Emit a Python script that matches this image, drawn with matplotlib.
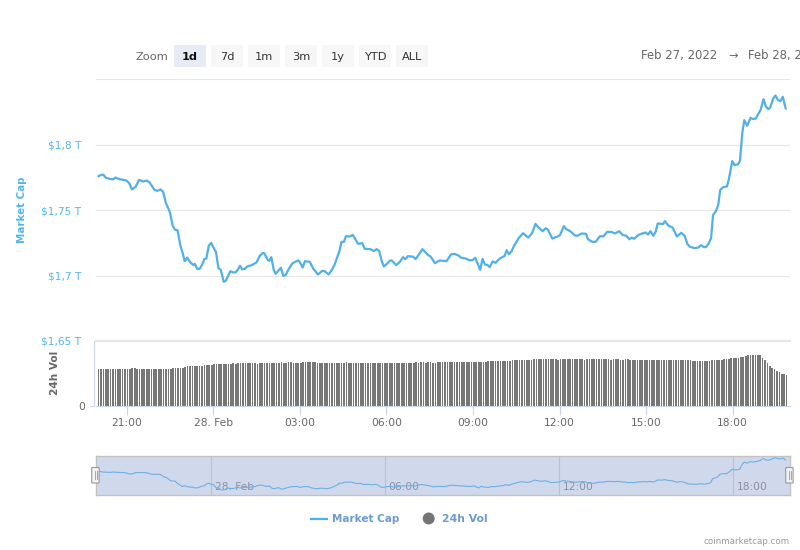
import numpy as np
import matplotlib
matplotlib.use("Agg")
import matplotlib.pyplot as plt
from matplotlib.patches import FancyBboxPatch, Circle
from matplotlib.lines import Line2D
from matplotlib.transforms import ScaledTranslation

# minutes after 27 Feb 21:00
cap_minutes = [-58, -52, -48, -43, -35, -28, -23, -15, -7, 0, 6, 11, 19, 26, 35, 42, 48, 58, 64, 71,
               76, 82, 90, 96, 101, 106, 112, 116, 121, 126, 133, 139, 142, 147, 152, 157, 162, 166, 171, 176,
               181, 186, 191, 196, 202, 206, 216, 222, 227, 231, 236, 240, 245, 251, 260, 270, 277, 283, 286, 294,
               297, 301, 306, 310, 321, 326, 331, 337, 345, 357, 360, 366, 371, 381, 388, 398, 407, 412, 420, 427,
               433, 442, 447, 452, 456, 464, 470, 475, 481, 490, 495, 507, 514, 520, 525, 531, 535, 540, 547, 551,
               561, 568, 575, 580, 585, 596, 601, 615, 627, 632, 641, 651, 665, 675, 682, 691, 696, 705, 712, 719,
               725, 735, 740, 745, 750, 755, 761, 767, 776, 786, 790, 795, 800, 806, 809, 815, 824, 835, 843, 850,
               855, 865, 871, 876, 885, 894, 901, 909, 914, 923, 932, 937, 946, 955, 959, 968, 975, 984, 991, 999,
               1008, 1015, 1024, 1031, 1039, 1045, 1050, 1055, 1064, 1074, 1079, 1084, 1089, 1095, 1100, 1104, 1112, 1115, 1119, 1126,
               1135, 1144, 1153, 1160, 1166, 1171, 1181, 1189, 1194, 1200, 1205, 1210, 1215, 1219, 1225, 1230, 1234, 1240, 1248, 1252,
               1259, 1264, 1271, 1275, 1280, 1284, 1290, 1297, 1302, 1308, 1318, 1324, 1329, 1334, 1338, 1344, 1349, 1354, 1359, 1364,
               1370]

# market cap, billions of dollars
cap_values = [1775.8, 1776.9, 1776.9, 1774.6, 1773.8, 1773.3, 1774.8, 1773.6, 1773.0, 1772.5, 1770.2, 1765.7, 1767.7, 1773.0, 1771.8, 1772.5, 1771.0, 1765.4, 1764.6, 1765.7,
              1763.9, 1755.2, 1748.6, 1737.9, 1734.9, 1734.6, 1722.7, 1718.1, 1710.9, 1713.7, 1709.9, 1707.9, 1708.9, 1705.1, 1705.1, 1708.1, 1712.7, 1713.0, 1722.7, 1724.9,
              1721.1, 1718.1, 1705.6, 1704.3, 1695.2, 1695.9, 1703.3, 1702.3, 1702.5, 1704.3, 1707.4, 1704.8, 1704.8, 1706.9, 1707.9, 1709.9, 1715.0, 1717.1, 1717.1, 1711.7,
              1711.2, 1714.0, 1704.3, 1701.3, 1705.9, 1699.7, 1700.5, 1704.8, 1709.4, 1711.5, 1710.4, 1706.1, 1710.9, 1710.4, 1705.3, 1700.8, 1703.6, 1703.3, 1700.8, 1704.3,
              1708.7, 1718.1, 1725.7, 1725.7, 1730.0, 1729.8, 1731.0, 1728.2, 1724.2, 1724.7, 1720.4, 1720.1, 1718.6, 1720.1, 1718.8, 1710.4, 1706.9, 1708.4, 1711.2, 1711.5,
              1707.9, 1710.4, 1714.0, 1712.5, 1714.8, 1714.3, 1712.5, 1720.1, 1715.5, 1714.5, 1709.4, 1711.5, 1710.9, 1716.3, 1716.5, 1715.0, 1713.5, 1713.0, 1711.7, 1711.7,
              1713.5, 1704.3, 1712.7, 1708.4, 1708.1, 1706.4, 1710.7, 1709.7, 1713.0, 1715.0, 1719.3, 1716.3, 1718.3, 1723.2, 1724.7, 1728.5, 1732.3, 1729.0, 1732.3, 1739.4,
              1737.2, 1733.8, 1736.1, 1734.9, 1728.2, 1729.5, 1730.8, 1737.7, 1735.4, 1733.6, 1730.5, 1730.3, 1732.1, 1731.8, 1727.7, 1725.7, 1725.7, 1730.0, 1729.8, 1733.3,
              1733.3, 1732.1, 1733.8, 1731.0, 1730.3, 1727.7, 1729.0, 1728.0, 1731.0, 1732.3, 1732.8, 1731.3, 1733.8, 1730.3, 1733.6, 1739.7, 1739.4, 1739.2, 1741.5, 1738.2,
              1736.6, 1729.8, 1732.6, 1730.3, 1723.9, 1721.9, 1720.9, 1721.4, 1723.2, 1721.6, 1721.9, 1724.4, 1728.5, 1746.1, 1749.1, 1754.2, 1765.4, 1767.4, 1768.0, 1773.6,
              1787.3, 1784.2, 1785.0, 1787.5, 1809.2, 1818.6, 1814.3, 1820.4, 1819.4, 1819.9, 1826.5, 1834.6, 1828.8, 1827.0, 1828.3, 1835.1, 1837.4, 1833.9, 1833.1, 1836.4,
              1827.5]

# 24h volume, one bar every 5 minutes from the first cap point
vol_values = [112, 113, 112, 112, 112, 112, 112, 112, 112, 112, 112, 112, 112, 112, 114, 115, 112, 112, 112, 112,
              112, 112, 112, 112, 112, 112, 112, 112, 112, 112, 112, 115, 115, 115, 115, 115, 118, 121, 121, 121,
              121, 121, 121, 122, 124, 124, 124, 125, 128, 126, 127, 127, 127, 127, 127, 128, 130, 128, 129, 130,
              130, 130, 130, 130, 130, 130, 128, 130, 130, 130, 130, 130, 130, 130, 130, 130, 132, 130, 131, 132,
              132, 131, 130, 130, 130, 133, 133, 133, 133, 133, 132, 130, 130, 130, 130, 130, 130, 130, 130, 130,
              130, 130, 130, 132, 130, 131, 130, 131, 130, 130, 130, 130, 130, 130, 130, 130, 130, 130, 130, 130,
              130, 130, 130, 130, 130, 130, 131, 130, 131, 131, 130, 131, 132, 131, 132, 132, 131, 132, 132, 130,
              131, 133, 133, 132, 133, 133, 133, 133, 133, 133, 133, 133, 133, 133, 133, 133, 133, 133, 133, 133,
              133, 133, 136, 136, 136, 136, 136, 136, 136, 136, 136, 136, 138, 138, 138, 138, 138, 138, 138, 138,
              138, 142, 142, 142, 142, 142, 142, 142, 141, 142, 142, 140, 142, 142, 142, 142, 142, 142, 142, 141,
              142, 141, 140, 142, 142, 142, 142, 142, 142, 142, 142, 142, 142, 140, 141, 142, 141, 139, 140, 142,
              141, 140, 139, 139, 138, 138, 138, 138, 138, 138, 138, 138, 138, 138, 138, 138, 139, 138, 138, 139,
              140, 139, 138, 138, 138, 138, 138, 137, 137, 137, 137, 137, 136, 136, 135, 138, 139, 139, 140, 140,
              141, 141, 142, 145, 145, 146, 146, 147, 149, 151, 153, 154, 154, 154, 154, 153, 146, 138, 130, 121,
              116, 111, 106, 102, 98, 95, 93]

range_labels = ["1d", "7d", "1m", "3m", "1y", "YTD", "ALL"]
time_ticks = [0, 180, 360, 540, 720, 900, 1080, 1260]
time_labels = ["21:00", "28. Feb", "03:00", "06:00", "09:00", "12:00", "15:00", "18:00"]
nav_ticks = [180, 540, 900, 1260]
nav_labels = ["28. Feb", "06:00", "12:00", "18:00"]
cap_ticks = [1650, 1700, 1750, 1800, 1850]
cap_tick_labels = ["$1,65 T", "$1,7 T", "$1,75 T", "$1,8 T", ""]

W, H = 800, 550
BLUE = "#50b0ea"
AXIS = "#ccd6eb"
GRID = "#e6e6e6"
TEXT = "#666666"
FS = 7.7

plt.rcParams["font.family"] = "DejaVu Sans"
fig = plt.figure(figsize=(W / 100, H / 100), dpi=100)


def px_axes(left, top, right, bottom):
    return fig.add_axes([left / W, 1 - bottom / H, (right - left) / W, (bottom - top) / H])


def px_text(x, y, s, **kw):
    kw.setdefault("fontsize", FS)
    kw.setdefault("color", TEXT)
    kw.setdefault("va", "center")
    fig.text(x / W, 1 - y / H, s, **kw)


# main chart
ax = px_axes(96, 79, 790, 341)
ax.set_xlim(-63.4, 1379)
ax.set_ylim(1650, 1850)
ax.plot(cap_minutes, cap_values, color=BLUE, lw=1.6, solid_joinstyle="round")
ax.set_yticks(cap_ticks)
ax.set_yticklabels(cap_tick_labels)
ax.tick_params(axis="y", length=0, pad=10.5, labelsize=FS, labelcolor="#55b5ee")
ax.set_xticks([])
ax.grid(axis="y", color=GRID, lw=0.8)
ax.set_axisbelow(True)
for s in ax.spines.values():
    s.set_visible(False)
px_text(22, 210, "Market Cap", color="#55b5ee", rotation=90, ha="center", fontweight="bold", fontsize=7.4)

# volume bars
vol = px_axes(96, 341, 790, 406)
vol_minutes = cap_minutes[0] + 5 * np.arange(len(vol_values))
vol.bar(vol_minutes, vol_values, width=3.5, color="#777777", linewidth=0)
vol.set_xlim(-63.4, 1379)
vol.set_ylim(0, 196)
vol.set_yticks([0])
vol.set_yticklabels(["0"])
vol.set_xticks(time_ticks)
vol.set_xticklabels(time_labels)
vol.tick_params(axis="x", length=6.5, width=0.8, color=AXIS, pad=2.2, labelsize=FS, labelcolor=TEXT)
vol.tick_params(axis="y", length=3, width=0.8, color=AXIS, pad=3, labelsize=FS, labelcolor=TEXT)
vol.spines["top"].set_color("#e6e6e6")
vol.spines["top"].set_linewidth(1.6)
vol.spines["right"].set_visible(False)
vol.spines["left"].set_color(AXIS)
vol.spines["left"].set_position(("outward", 1.5))
vol.spines["bottom"].set_color(AXIS)
px_text(55, 373, "24h Vol", color="#666666", rotation=90, ha="center", fontweight="bold", fontsize=7.6)

# navigator
nav = px_axes(96, 456, 790, 495)
nav.set_facecolor("#d0d9ec")
nav.plot(cap_minutes, cap_values, color="#6cb0e6", lw=0.8)
nav.set_xlim(-57.5, 1379)
nav.set_ylim(1673.5, 1845.6)
nav.set_yticks([])
nav.set_xticks(nav_ticks)
nav.set_xticklabels(nav_labels, ha="left")
nav.tick_params(axis="x", direction="in", length=0, pad=-9.4, labelsize=FS, labelcolor="#8b90a0")
shift = ScaledTranslation(4 / 100, 0, fig.dpi_scale_trans)
for lab in nav.get_xticklabels():
    lab.set_transform(lab.get_transform() + shift)
nav.grid(axis="x", color="#b9c2d4", lw=0.8)
for s in nav.spines.values():
    s.set_color("#c2c2c2")
    s.set_linewidth(1.0)

# navigator handles
for x0 in (91.7, 785.7):
    fig.add_artist(FancyBboxPatch((x0 / W, 1 - 483 / H), 7.4 / W, 15.5 / H,
                                  boxstyle="round,pad=0,rounding_size=0.001",
                                  transform=fig.transFigure, facecolor="#f2f2f2",
                                  edgecolor="#999999", linewidth=0.8))
    for dx in (2.8, 4.8):
        fig.add_artist(Line2D([(x0 + dx) / W] * 2, [1 - 479 / H, 1 - 471 / H],
                              transform=fig.transFigure, color="#999999", lw=0.6))

# range selector
px_text(136, 57, "Zoom", fontsize=8.2)
for i, label in enumerate(range_labels):
    x0 = 174 + 37 * i
    selected = label == "1d"
    fig.add_artist(FancyBboxPatch((x0 / W, 1 - 66.7 / H), 32 / W, 21.7 / H,
                                  boxstyle="square,pad=0", transform=fig.transFigure,
                                  facecolor="#e6ebf5" if selected else "#f7f7f7", edgecolor="none"))
    px_text(x0 + 16, 57, label, ha="center", color="#111111" if selected else "#333333",
            fontweight="bold" if selected else "normal", fontsize=8.2)

px_text(641, 56, "Feb 27, 2022", fontsize=8.4)
px_text(733.5, 56, "→", fontsize=8.2, ha="center")
px_text(748, 56, "Feb 28, 2022", fontsize=8.4)

# legend
fig.add_artist(Line2D([311 / W, 327 / W], [1 - 518.7 / H] * 2, transform=fig.transFigure, color=BLUE, lw=1.6))
px_text(332, 518.7, "Market Cap", color="#6a9bd3", fontweight="bold", fontsize=7.5)
fig.add_artist(Circle((428.7, H - 518.5), 6, transform=None, facecolor="#757575", edgecolor="none"))
px_text(442, 518.7, "24h Vol", color="#6a9bd3", fontweight="bold", fontsize=7.8)

px_text(790, 541.5, "coinmarketcap.com", color="#999999", ha="right", fontsize=6.3)

fig.savefig("out.png", dpi=100)
